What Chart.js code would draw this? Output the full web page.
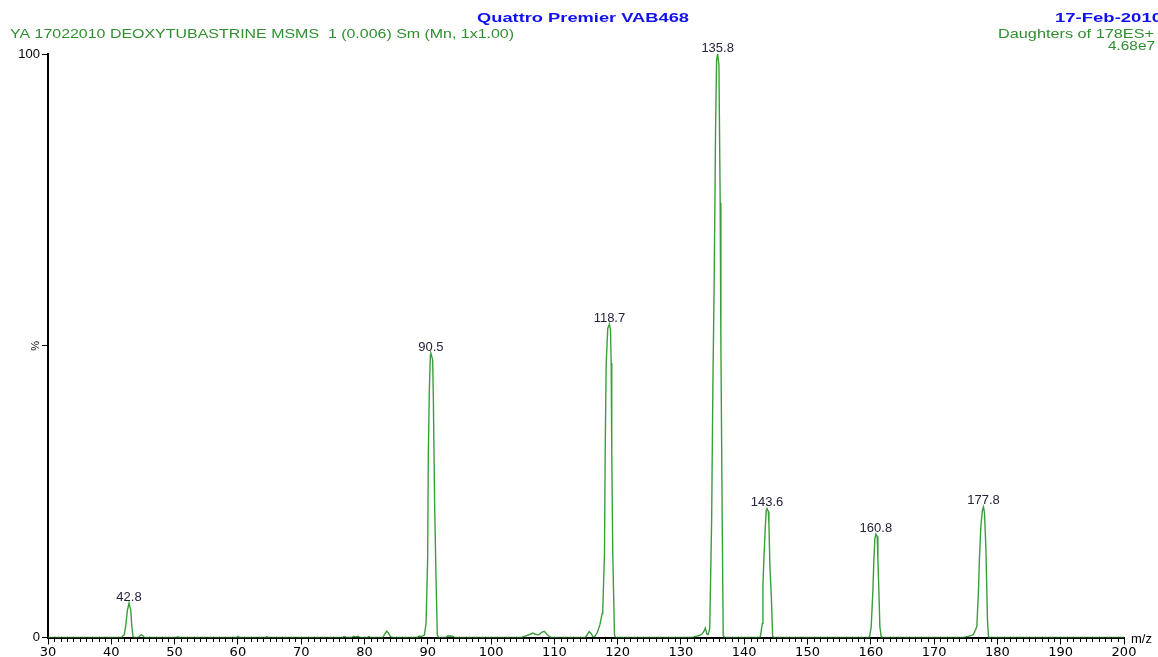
<!DOCTYPE html>
<html>
<head>
<meta charset="utf-8">
<title>Quattro Premier VAB468 – Daughters of 178ES+</title>
<script src="https://cdn.jsdelivr.net/npm/chart.js@4.4.1/dist/chart.umd.min.js"></script>
<style>
  html, body { margin: 0; padding: 0; background: #fff; overflow: hidden; }
  #wrap { position: relative; width: 1158px; height: 657px; }
</style>
</head>
<body>
<div id="wrap"><canvas id="spectrum" width="1158" height="657"></canvas></div>
<script>
// Profile trace, [m/z, relative intensity %], split by mass region
const traceLowMass = [
  [30, 0], [41.6, 0], [41.8, 0.2], [42.05, 0.5], [42.29, 2.1], [42.55, 4.7], [42.8, 5.9],
  [43.07, 4.7], [43.23, 2.1], [43.44, 0.1], [43.7, 0], [44.3, 0], [44.5, 0.3], [44.75, 0.45],
  [45.0, 0.3], [45.2, 0], [50.3, 0], [50.5, 0.15], [50.7, 0], [59.8, 0], [60.0, 0.2], [60.2, 0],
  [64.4, 0], [64.6, 0.15], [64.8, 0], [76.5, 0], [76.8, 0.15], [77.1, 0], [78.0, 0], [78.3, 0.2],
  [78.6, 0.1], [79.0, 0.2], [79.3, 0], [80.5, 0], [80.7, 0.2], [80.9, 0], [82.9, 0], [83.2, 0.6],
  [83.5, 1.1], [83.8, 0.8], [84.1, 0.15], [84.4, 0]
];
const trace90 = [
  [88.3, 0], [88.7, 0.25], [89.0, 0.15], [89.3, 0.3], [89.46, 0.4], [89.73, 2.4], [89.98, 13.3],
  [90.09, 31.6], [90.25, 42.4], [90.41, 48.4], [90.5, 48.7], [90.77, 47.6], [90.88, 41.3],
  [91.08, 23.1], [91.31, 9.9], [91.51, 0.4], [91.7, 0], [92.8, 0], [93.2, 0.3], [93.6, 0.25],
  [94.0, 0.2], [94.3, 0]
];
const trace105to120 = [
  [104.8, 0], [105.3, 0.2], [105.8, 0.4], [106.3, 0.6], [106.6, 0.75], [106.9, 0.6], [107.3, 0.45],
  [107.6, 0.5], [108.0, 0.9], [108.4, 1.05], [108.8, 0.6], [109.2, 0.15], [109.5, 0],
  [114.9, 0], [115.2, 0.5], [115.5, 1.0], [115.8, 0.7], [116.1, 0.15], [116.4, 0.2], [116.8, 0.9],
  [117.2, 2.2], [117.55, 4.1], [117.65, 4.7], [117.92, 14.4], [118.03, 31.6], [118.19, 47.0],
  [118.44, 53.0], [118.7, 53.7], [118.87, 52.7], [118.98, 47.0], [119.07, 31.6], [119.23, 14.4],
  [119.5, 0.4], [119.7, 0]
];
const trace135to145 = [
  [131.8, 0], [132.3, 0.2], [132.8, 0.3], [133.3, 0.6], [133.6, 1.0], [133.85, 1.6], [134.1, 0.6],
  [134.3, 0.5], [134.55, 1.5], [134.85, 20.1], [135.05, 43.6], [135.25, 60.7], [135.47, 87.0],
  [135.63, 99.0], [135.8, 100], [136.0, 98.1], [136.2, 74.5], [136.31, 50.5], [136.52, 20.1],
  [136.68, 0.4], [136.9, 0],
  [142.3, 0], [142.54, 0.1], [142.86, 2.4], [142.95, 8.7], [143.11, 13.6], [143.33, 19.0],
  [143.49, 21.9], [143.6, 22.1], [143.8, 21.6], [143.9, 19.6], [144.06, 12.1], [144.28, 7.0],
  [144.49, 0.1], [144.7, 0]
];
const traceHighMass = [
  [159.6, 0], [159.8, 0.1], [160.06, 1.85], [160.33, 8.1], [160.48, 13.3], [160.64, 17.0],
  [160.8, 17.7], [161.01, 17.3], [161.12, 13.3], [161.27, 8.1], [161.43, 1.85], [161.64, 0.1],
  [161.9, 0],
  [174.6, 0], [175.4, 0.2], [176.2, 0.5], [176.75, 1.85], [177.01, 8.1], [177.17, 13.8],
  [177.38, 19.0], [177.64, 21.9], [177.8, 22.4], [177.96, 21.3], [178.17, 15.6], [178.33, 8.1],
  [178.43, 3.0], [178.59, 0.1], [178.8, 0], [200, 0]
];

// Labelled peaks (m/z and apex intensity %)
const peakMz = [42.8, 90.5, 118.7, 135.8, 143.6, 160.8, 177.8];
const peakIntensity = [5.9, 48.7, 53.7, 100, 22.1, 17.7, 22.4];

// Header text
const instrumentTitle = 'Quattro Premier VAB468';
const acquisitionDate = '17-Feb-2010';
const sampleLine = 'YA 17022010 DEOXYTUBASTRINE MSMS  1 (0.006) Sm (Mn, 1x1.00)';
const scanLine = 'Daughters of 178ES+';
const fullScale = '4.68e7';

const traceData = [].concat(traceLowMass, trace90, trace105to120, trace135to145, traceHighMass)
  .map(p => ({ x: p[0], y: p[1] }));

const BLUE = '#1010f0';
const GREEN = '#2f8f2f';

// draw text stretched/condensed to a given width
function fitText(ctx, text, x, y, width, align, font, color) {
  ctx.save();
  ctx.font = font;
  ctx.fillStyle = color;
  ctx.textBaseline = 'alphabetic';
  ctx.textAlign = 'left';
  const natural = ctx.measureText(text).width;
  const sx = width / natural;
  const left = align === 'left' ? x : (align === 'right' ? x - width : x - width / 2);
  ctx.translate(left, y);
  ctx.scale(sx, 1);
  ctx.fillText(text, 0, 0);
  ctx.restore();
}

const decorations = {
  id: 'decorations',
  afterDraw(chart) {
    const ctx = chart.ctx;
    const xs = chart.scales.x, ys = chart.scales.y;
    const bottom = chart.chartArea.bottom;

    // minor ticks every 1 m/z
    ctx.save();
    ctx.strokeStyle = '#000';
    ctx.lineWidth = 1;
    ctx.beginPath();
    for (let v = 31; v < 200; v++) {
      if (v % 10 === 0) continue;
      const px = Math.round(xs.getPixelForValue(v)) + 0.5;
      ctx.moveTo(px, bottom);
      ctx.lineTo(px, bottom + 4.5);
    }
    ctx.stroke();
    ctx.restore();

    // axis unit labels
    ctx.save();
    ctx.font = '13px "Liberation Sans", Arial, sans-serif';
    ctx.fillStyle = '#000';
    ctx.textAlign = 'left';
    ctx.textBaseline = 'middle';
    ctx.fillText('m/z', xs.right + 7, bottom + 2);
    ctx.translate(36, ys.getPixelForValue(50));
    ctx.rotate(-Math.PI / 2);
    ctx.textAlign = 'center';
    ctx.font = '11px "Liberation Sans", Arial, sans-serif';
    ctx.fillText('%', 0, 0);
    ctx.restore();

    // header
    fitText(ctx, instrumentTitle, 583, 22, 212, 'center', 'bold 13px "Liberation Sans", Arial, sans-serif', BLUE);
    fitText(ctx, acquisitionDate, 1055, 22, 107, 'left', 'bold 13px "Liberation Sans", Arial, sans-serif', BLUE);
    fitText(ctx, sampleLine, 10, 38, 504, 'left', '13px "Liberation Sans", Arial, sans-serif', GREEN);
    fitText(ctx, scanLine, 1154, 38, 156, 'right', '13px "Liberation Sans", Arial, sans-serif', GREEN);
    fitText(ctx, fullScale, 1155, 50, 47, 'right', '13px "Liberation Sans", Arial, sans-serif', GREEN);

    // peak annotations
    ctx.save();
    ctx.font = '13px "Liberation Sans", Arial, sans-serif';
    ctx.fillStyle = '#24243a';
    ctx.textAlign = 'center';
    ctx.textBaseline = 'alphabetic';
    peakMz.forEach((mz, i) => {
      const px = xs.getPixelForValue(mz);
      const py = ys.getPixelForValue(peakIntensity[i]);
      ctx.fillText(mz.toFixed(1), px, py - 2.5);
    });
    ctx.restore();
  }
};

new Chart(document.getElementById('spectrum'), {
  type: 'scatter',
  data: {
    datasets: [{
      data: traceData,
      showLine: true,
      borderColor: '#3a9e3a',
      borderWidth: 1.4,
      pointRadius: 0,
      tension: 0,
      fill: false
    }]
  },
  options: {
    responsive: false,
    animation: false,
    devicePixelRatio: 1,
    layout: { padding: { top: 54, right: 34, left: 0, bottom: 0 } },
    plugins: { legend: { display: false }, tooltip: { enabled: false } },
    scales: {
      x: {
        type: 'linear',
        min: 30,
        max: 200,
        afterFit(scale) { scale.height = 19.5; },
        ticks: {
          stepSize: 10,
          autoSkip: false,
          maxRotation: 0,
          padding: 0,
          color: '#000',
          font: { family: '"DejaVu Sans", sans-serif', size: 13 }
        },
        grid: { drawOnChartArea: false, tickLength: 7, tickColor: '#000', tickWidth: 1 },
        border: { color: '#000', width: 2 }
      },
      y: {
        min: 0,
        max: 100,
        afterFit(scale) { scale.width = 48; },
        ticks: {
          stepSize: 50,
          padding: 2,
          color: '#000',
          font: { family: '"Liberation Sans", Arial, sans-serif', size: 13 },
          callback: v => (v === 50 ? '' : String(v))
        },
        grid: { drawOnChartArea: false, tickLength: 6, tickColor: '#000', tickWidth: 1 },
        border: { color: '#000', width: 2 }
      }
    }
  },
  plugins: [decorations]
});
</script>
</body>
</html>
